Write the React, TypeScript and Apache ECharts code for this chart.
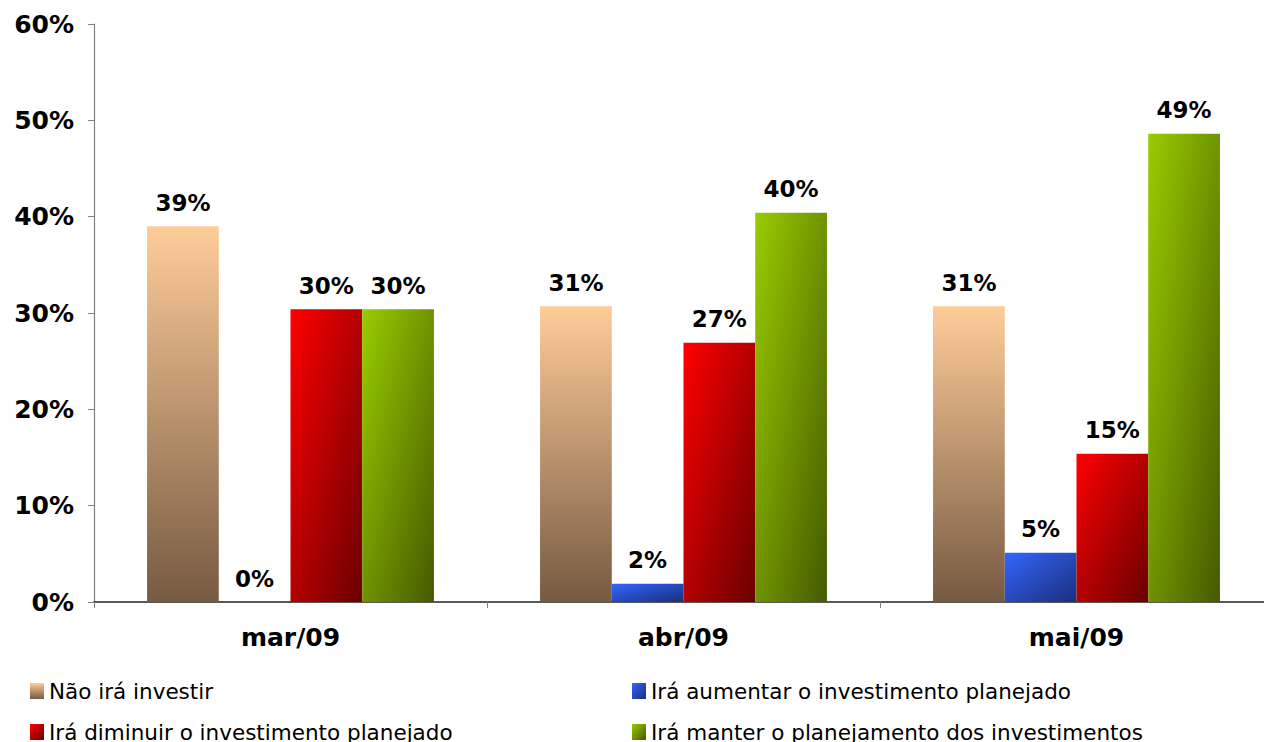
import React, { useEffect, useRef } from "react";
import * as echarts from "echarts";

const categories = ["mar/09", "abr/09", "mai/09"];
const seriesNames = [
  "Não irá investir",
  "Irá aumentar o investimento planejado",
  "Irá diminuir o investimento planejado",
  "Irá manter o planejamento dos investimentos",
];
const naoIraInvestir = [39.0, 30.7, 30.7];
const iraAumentar = [0, 1.9, 5.1];
const iraDiminuir = [30.4, 26.9, 15.4];
const iraManter = [30.4, 40.4, 48.6];
const yTicks = { min: 0, max: 60, interval: 10 };

const grad = (c1: string, c2: string, vertical: boolean) =>
  new echarts.graphic.LinearGradient(0, 0, vertical ? 0 : 1, 1, [
    { offset: 0, color: c1 },
    { offset: 1, color: c2 },
  ]);

const colors = [
  grad("#ffcc99", "#765a42", true),
  grad("#3366ff", "#1a2e7a", false),
  grad("#ff0000", "#6a0000", false),
  grad("#99cc00", "#455a00", false),
];

const values = [naoIraInvestir, iraAumentar, iraDiminuir, iraManter];

export default function App() {
  const ref = useRef<HTMLDivElement>(null);
  useEffect(() => {
    if (!ref.current) return;
    const chart = echarts.init(ref.current, undefined, { renderer: "svg" });
    const legendPos = [
      { left: 30, top: 680 },
      { left: 632, top: 680 },
      { left: 30, top: 721 },
      { left: 632, top: 721 },
    ];
    chart.setOption({
      animation: false,
      backgroundColor: "#ffffff",
      grid: { left: 94, right: 0, top: 24, bottom: 140, containLabel: false },
      legend: seriesNames.map((n, i) => ({
        data: [n],
        left: legendPos[i].left,
        top: legendPos[i].top,
        itemWidth: 14,
        itemHeight: 16,
        icon: "rect",
        selectedMode: false,
        padding: 0,
        textStyle: {
          fontFamily: "DejaVu Sans",
          fontSize: 21.5,
          color: "#000",
          padding: [0, 0, 0, 0],
        },
      })),
      xAxis: {
        type: "category",
        data: categories,
        axisLine: { lineStyle: { color: "#222", width: 1.5 } },
        axisTick: { show: true, length: 6, lineStyle: { color: "#808080" } },
        axisLabel: {
          margin: 23,
          fontFamily: "DejaVu Sans",
          fontWeight: "bold",
          fontSize: 25,
          color: "#000",
        },
      },
      yAxis: {
        type: "value",
        min: yTicks.min,
        max: yTicks.max,
        interval: yTicks.interval,
        splitLine: { show: false },
        axisLine: { show: true, lineStyle: { color: "#808080", width: 1.2 } },
        axisTick: { show: true, length: 6, lineStyle: { color: "#808080" } },
        axisLabel: {
          formatter: "{value}%",
          margin: 20,
          fontFamily: "DejaVu Sans",
          fontWeight: "bold",
          fontSize: 25,
          color: "#000",
        },
      },
      series: seriesNames.map((n, i) => ({
        name: n,
        type: "bar",
        data: values[i],
        barGap: "0%",
        barCategoryGap: "27%",
        itemStyle: { color: colors[i] },
        label: {
          show: true,
          position: "top",
          distance: 12,
          formatter: (p: any) => Math.round(p.value) + "%",
          fontFamily: "DejaVu Sans",
          fontWeight: "bold",
          fontSize: 23,
          color: "#000",
        },
      })),
    });
    return () => chart.dispose();
  }, []);
  return (
    <div
      ref={ref}
      style={{ position: "fixed", left: 0, top: 0, width: 1273, height: 742 }}
    />
  );
}
